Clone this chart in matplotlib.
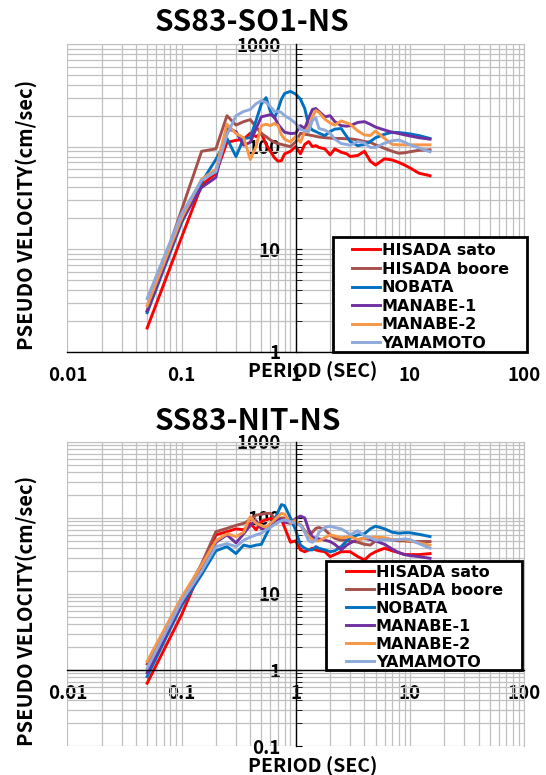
import numpy as np
import matplotlib
matplotlib.use("Agg")
import matplotlib.pyplot as plt
from matplotlib.patches import Rectangle
from matplotlib.ticker import FixedLocator, LogLocator, NullFormatter, FuncFormatter

plt.rcParams['font.family'] = ['Noto Sans CJK JP', 'DejaVu Sans']

# periods (sec)
periods = [0.05, 0.1, 0.15, 0.2, 0.25, 0.3, 0.35, 0.4, 0.45, 0.5, 0.55, 0.6, 0.65, 0.7,
           0.75, 0.8, 0.9, 1.0, 1.1, 1.2, 1.3, 1.4, 1.5, 1.6, 1.8, 2.0, 2.2, 2.5, 2.8,
           3.0, 3.5, 4.0, 4.5, 5, 6, 7, 8, 9, 10, 12, 15]

labels = ["HISADA sato", "HISADA boore", "NOBATA", "MANABE-1", "MANABE-2", "YAMAMOTO"]
colors = ["#FF0000", "#A5504B", "#0070C0", "#7030A0", "#F79646", "#8EA9DB"]

# SS83-SO1-NS pseudo velocity (cm/sec)
so1_sato = [1.7, 13, 42, 55, 110, 115, 118, 135, 125, 135, 105, 90, 78, 72, 73, 85, 90, 100,
            85, 105, 112, 100, 102, 98, 95, 83, 95, 88, 85, 80, 82, 90, 72, 66, 76, 74,
            70, 66, 62, 55, 52]
so1_boore = [2.5, 24, 90, 95, 200, 162, 175, 183, 155, 134, 125, 116, 110, 107, 105, 103,
             100, 111, 135, 132, 130, 128, 126, 124, 122, 121, 120, 120, 119, 119, 116,
             112, 110, 104, 96, 90, 86, 87, 89, 92, 93]
so1_nobata = [2.4, 18, 45, 75, 120, 80, 120, 122, 180, 260, 300, 220, 190, 230, 290, 330,
              345, 325, 290, 235, 160, 145, 140, 135, 128, 140, 148, 150, 125, 112, 102,
              105, 112, 122, 132, 138, 137, 135, 133, 128, 120]
so1_manabe1 = [2.5, 19, 40, 50, 150, 140, 103, 110, 150, 195, 200, 205, 195, 165, 150, 138,
               134, 135, 160, 150, 190, 230, 235, 220, 195, 200, 175, 160, 158, 160, 172,
               175, 165, 155, 145, 138, 134, 130, 127, 122, 118]
so1_manabe2 = [2.8, 20, 48, 60, 165, 134, 122, 75, 100, 160, 165, 160, 168, 160, 130, 118,
               111, 126, 110, 140, 155, 195, 225, 215, 185, 170, 162, 178, 170, 165, 142,
               130, 128, 142, 120, 105, 104, 104, 104, 104, 104]
so1_yamamoto = [3.3, 22, 47, 57, 130, 200, 220, 230, 262, 280, 270, 245, 220, 220, 215, 200,
                185, 168, 148, 142, 140, 180, 190, 150, 145, 135, 118, 107, 105, 103, 112,
                108, 98, 98, 108, 114, 116, 110, 104, 97, 89]

# SS83-NIT-NS pseudo velocity (cm/sec)
nit_sato = [0.67, 5.3, 22, 60, 66, 72, 70, 85, 70, 90, 95, 98, 100, 90, 95, 75, 48, 50, 38,
            36, 38, 40, 38, 37, 36, 31, 33, 36, 36, 36, 31, 28, 33, 36, 40, 37, 35, 33, 33,
            33, 34]
nit_boore = [1.2, 8, 25, 66, 73, 80, 85, 95, 109, 112, 115, 115, 100, 95, 100, 100, 92, 85,
             82, 68, 60, 65, 73, 75, 70, 60, 54, 51, 51, 50, 48, 45, 44, 50, 54, 51, 50, 50,
             49, 49, 49]
nit_nobata = [0.82, 7, 18, 37, 42, 34, 44, 42, 44, 45, 60, 78, 92, 120, 150, 145, 100, 69,
              44, 40, 38, 38, 42, 40, 38, 36, 37, 42, 50, 55, 60, 62, 72, 78, 72, 65, 63, 64,
              64, 61, 57]
nit_manabe1 = [0.92, 7.5, 20, 48, 60, 47, 62, 80, 92, 72, 72, 80, 88, 97, 95, 88, 85, 98,
               106, 100, 70, 56, 54, 53, 51, 49, 45, 38, 44, 47, 52, 54, 52, 50, 45, 39, 35,
               33, 32, 31, 29.5]
nit_manabe2 = [1.3, 9, 24, 50, 62, 57, 65, 104, 85, 80, 75, 85, 94, 105, 115, 112, 85, 94,
               80, 66, 57, 52, 50, 50, 55, 60, 58, 55, 56, 57, 52, 54, 55, 56, 55, 52, 52, 52,
               50, 47, 44]
nit_yamamoto = [1.05, 8, 20, 42, 46, 42, 51, 56, 60, 63, 70, 75, 82, 88, 92, 94, 90, 85, 80,
                65, 50, 48, 52, 65, 75, 78, 75, 72, 65, 60, 68, 58, 55, 51, 52, 51, 52, 53,
                52, 46, 40]

so1_series = [so1_sato, so1_boore, so1_nobata, so1_manabe1, so1_manabe2, so1_yamamoto]
nit_series = [nit_sato, nit_boore, nit_nobata, nit_manabe1, nit_manabe2, nit_yamamoto]

fig = plt.figure(figsize=(5.46, 7.75), dpi=100)
ax1 = fig.add_axes([0.1233, 0.5462, 0.8366, 0.397])
ax2 = fig.add_axes([0.1233, 0.0374, 0.8366, 0.3923])


def setup(ax, series, title, ymin, yticks, title_xy, xlab_y, leg_anchor, leg_box, lspace):
    for vals, lab, col in zip(series, labels, colors):
        ax.plot(periods, vals, color=col, lw=2.1, label=lab)
    ax.set_xscale('log')
    ax.set_yscale('log')
    ax.set_xlim(0.01, 100)
    ax.set_ylim(ymin, 1000)
    ax.xaxis.set_major_locator(FixedLocator([0.01, 0.1, 1, 10, 100]))
    ax.yaxis.set_major_locator(FixedLocator(yticks))
    ax.xaxis.set_minor_locator(LogLocator(base=10, subs=np.arange(2, 10)))
    ax.yaxis.set_minor_locator(LogLocator(base=10, subs=np.arange(2, 10)))
    ax.xaxis.set_minor_formatter(NullFormatter())
    ax.yaxis.set_minor_formatter(NullFormatter())
    fmt = FuncFormatter(lambda v, p: '%g' % v)
    ax.xaxis.set_major_formatter(fmt)
    ax.yaxis.set_major_formatter(fmt)
    ax.grid(True, which='both', color='#C0C0C0', lw=0.9)
    ax.set_axisbelow(True)
    # axes cross at x=1, y=1 like the Excel original
    ax.spines['left'].set_position(('data', 1))
    ax.spines['bottom'].set_position(('data', 1))
    for s in ['left', 'bottom']:
        ax.spines[s].set_color('black')
        ax.spines[s].set_linewidth(1.0)
        ax.spines[s].set_zorder(3)
    for s in ['top', 'right']:
        ax.spines[s].set_color('#C0C0C0')
    ax.tick_params(axis='x', which='both', length=0, pad=10, labelsize=13.5)
    ax.tick_params(axis='y', which='both', direction='in', length=4, pad=11, labelsize=13.5)
    for t in ax.get_xticklabels() + ax.get_yticklabels():
        t.set_fontweight('bold')
    ax.set_xlabel('PERIOD (SEC)', fontsize=14, fontweight='bold', va='center')
    ax.xaxis.set_label_coords(0.538, xlab_y)
    ax.set_ylabel('PSEUDO VELOCITY(cm/sec)', fontsize=14.5, fontweight='bold', va='center')
    ax.yaxis.set_label_coords(-0.0904, 0.445)
    ax.text(title_xy[0], title_xy[1], title, transform=ax.transAxes, ha='center',
            va='center', fontsize=21.5, fontweight='bold')
    # legend frame drawn separately (wide side padding as in the original)
    ax.add_patch(Rectangle(leg_box[:2], leg_box[2], leg_box[3], transform=ax.transAxes,
                           facecolor='white', edgecolor='black', lw=2, zorder=4,
                           clip_on=False))
    leg = ax.legend(loc='upper left', bbox_to_anchor=leg_anchor, borderaxespad=0,
                    frameon=False, handlelength=1.75, handletextpad=0.12,
                    labelspacing=lspace, borderpad=0,
                    prop={'family': 'DejaVu Sans', 'weight': 'bold', 'size': 11.5})
    leg.set_zorder(5)


setup(ax1, so1_series, 'SS83-SO1-NS', 1, [1, 10, 100, 1000], (0.404, 1.0725), -0.063,
      (0.6226, 0.353), (0.5817, 0.0, 0.4247, 0.3728), 0.22)
setup(ax2, nit_series, 'SS83-NIT-NS', 0.1, [0.1, 1, 10, 100, 1000], (0.396, 1.07), -0.066,
      (0.610, 0.597), (0.5663, 0.25, 0.429, 0.3586), 0.19)

fig.savefig('out.png', dpi=100)
